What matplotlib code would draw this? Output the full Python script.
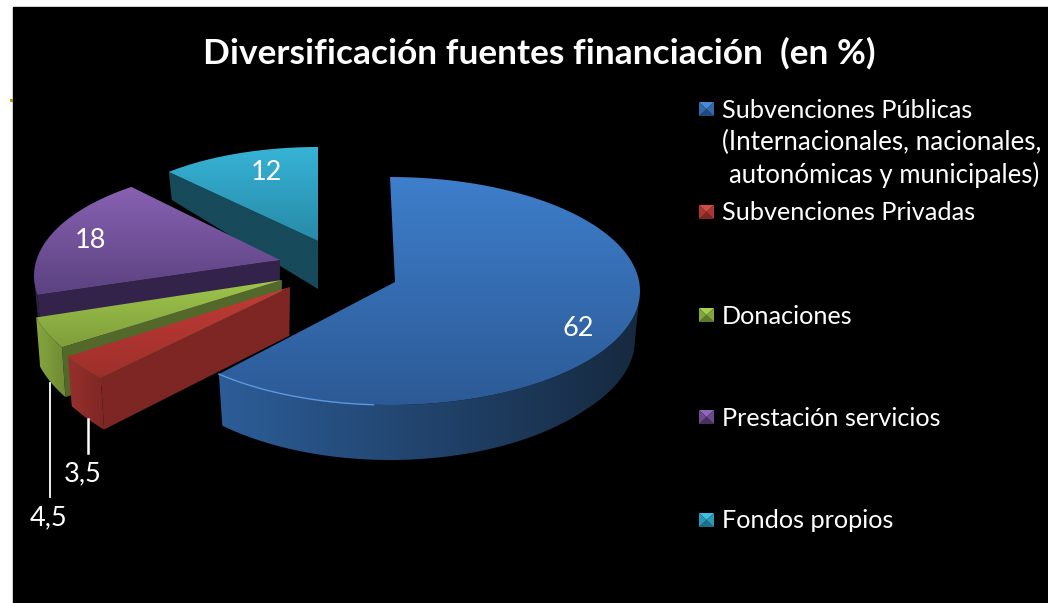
import numpy as np
import matplotlib
matplotlib.use("Agg")
import matplotlib.pyplot as plt
from matplotlib.colors import LinearSegmentedColormap
from matplotlib.patches import Polygon, Rectangle

plt.rcParams['font.family'] = ['Lato', 'DejaVu Sans']

# data
title = "Diversificación fuentes financiación  (en %)"
names = ["Subvenciones Públicas", "Subvenciones Privadas", "Donaciones",
         "Prestación servicios", "Fondos propios"]
values = [62, 3.5, 4.5, 18, 12]
value_labels = ["62", "3,5", "4,5", "18", "12"]

# slice geometry in picture pixels: tip, ellipse centre, radii, angle shift
tips = [(395, 282), (290, 287), (282, 280), (280, 260), (318, 241)]
centres = [(390, 291), (259, 285), (234, 281), (264, 276), (318, 239)]
radii = [(250, 114), (231, 127), (208, 118), (230, 109), (218, 92)]
shifts = [0, 0, 0, -8, 0]

top_cols = [("#3e7ecb", "#2c5a96"), ("#c23b36", "#9d2f2b"), ("#9fc64c", "#7f9e3b"),
            ("#8861b2", "#5b4280"), ("#36b3d6", "#288aa8")]
rim_cols = [("#2c5d98", "#16293f"), ("#96302c", "#7f2724"), ("#86a63f", "#6f8a34"),
            ("#33234a", "#33234a"), ("#174a5a", "#174a5a")]
cut_cols = ["#1b3654", "#7d2624", "#53682a", "#33234a", "#174a5a"]
legend_cols = [("#4a8ad6", "#1f4a80"), ("#d64a44", "#7d2624"), ("#a8d050", "#5c7a2a"),
               ("#8f68ba", "#46305f"), ("#3dbfe2", "#1d6f88")]

label_pos = [(578, 329), (83, 474), (49, 518), (90, 240), (266, 173)]
legend_y = [109, 212, 315, 417, 520]

fig = plt.figure(figsize=(10.48, 6.03), dpi=100, facecolor="white")
ax = fig.add_axes([0, 0, 1, 1])
ax.set_xlim(0, 1048)
ax.set_ylim(603, 0)
ax.axis("off")
ax.add_patch(Rectangle((13, 7), 1035, 596, color="black", zorder=0))
ax.add_patch(Rectangle((10, 99), 3, 3, color="#a8a000", lw=0, zorder=0))


def drop(x, y, cx):
    # the slice gets thicker towards the viewer
    h = np.interp(y, [172, 241, 360, 405], [28, 48, 50, 55])
    return x + (cx - x) * 0.02, y + h


def fill(pts, c1, c2, z, horizontal=False):
    pts = np.array(pts)
    cmap = LinearSegmentedColormap.from_list("g", [c1, c2])
    grad = np.linspace(0, 1, 256).reshape(-1, 1)
    if horizontal:
        grad = grad.T
    x0, y0 = pts.min(axis=0)
    x1, y1 = pts.max(axis=0)
    im = ax.imshow(grad, cmap=cmap, extent=(x0, x1, y1, y0), origin="upper",
                   aspect="auto", zorder=z, interpolation="bilinear")
    poly = Polygon(pts, closed=True, transform=ax.transData, fc="none", ec="none")
    ax.add_patch(poly)
    im.set_clip_path(poly)


# slices as shares of the circle, clockwise from the top
angles = 90 - np.cumsum([0] + values) * 3.6
pieces = []
for i in range(len(values)):
    a0 = np.deg2rad(angles[i] + shifts[i])
    a1 = np.deg2rad(angles[i + 1] + shifts[i])
    t = np.linspace(a0, a1, 120)
    cx, cy = centres[i]
    rx, ry = radii[i]
    rim = np.column_stack((cx + rx * np.cos(t), cy - ry * np.sin(t)))
    pieces.append((t, rim))

# back slices first
for i in [4, 3, 2, 1, 0]:
    t, rim = pieces[i]
    tip = tips[i]
    cx = centres[i][0]
    z = 10 + (4 - i) * 3

    # cut face on the end of the slice that is nearer the viewer
    end = rim[0] if rim[0][1] > rim[-1][1] else rim[-1]
    cut = [tip, end, drop(*end, cx), drop(*tip, cx)]
    if i > 0:
        fill(cut, cut_cols[i], cut_cols[i], z)

    # outer wall, only where it faces the viewer
    front = np.sin(t) < 0
    if front.any():
        top_edge = rim[front]
        low_edge = np.array([drop(x, y, cx) for x, y in top_edge])
        wall = np.vstack((top_edge, low_edge[::-1]))
        fill(wall, rim_cols[i][0], rim_cols[i][1], z + 1, horizontal=True)

    face = np.vstack(([tip], rim))
    fill(face, top_cols[i][0], top_cols[i][1], z + 2)

    if i == 0:
        # light bevel along the left part of the front edge of the big slice
        low = rim[np.sin(t) < 0][::-1][:22]
        ax.plot(low[:, 0], low[:, 1], color="#5a9ae0", lw=1.0, zorder=z + 3)

# value labels
for lab, (x, y) in zip(value_labels, label_pos):
    ax.text(x, y, lab, color="white", fontsize=19.5, ha="center", va="center", zorder=40)

# leader lines
ax.plot([88, 88], [419, 453], color="white", lw=1.8, zorder=30)
ax.plot([50, 50], [383, 497], color="white", lw=1.3, zorder=30)

# title
ax.text(539, 53, title, color="white", fontsize=25.4, fontweight="bold",
        ha="center", va="center", zorder=40)

# legend
for i, y in enumerate(legend_y):
    light, dark = legend_cols[i]
    x0, x1, y0, y1 = 699, 714, y - 7, y + 7
    mid = ((x0 + x1) / 2, (y0 + y1) / 2)
    ax.add_patch(Polygon([(x0, y0), (x1, y0), mid], fc=light, ec="none", zorder=30))
    ax.add_patch(Polygon([(x0, y1), (x1, y1), mid], fc=dark, ec="none", zorder=30))
    side = LinearSegmentedColormap.from_list("m", [light, dark])(0.5)
    ax.add_patch(Polygon([(x0, y0), (x0, y1), mid], fc=side, ec="none", zorder=30))
    ax.add_patch(Polygon([(x1, y0), (x1, y1), mid], fc=side, ec="none", zorder=30))
    ax.text(722, y + 1, names[i], color="white", fontsize=18.2, ha="left", va="center", zorder=40)

ax.text(722, 142, "(Internacionales, nacionales,", color="white", fontsize=18.7,
        ha="left", va="center", zorder=40)
ax.text(729, 175, "autonómicas y municipales)", color="white", fontsize=18.5,
        ha="left", va="center", zorder=40)

ax.set_xlim(0, 1048)
ax.set_ylim(603, 0)
fig.savefig("out.png", dpi=100, facecolor="white")
